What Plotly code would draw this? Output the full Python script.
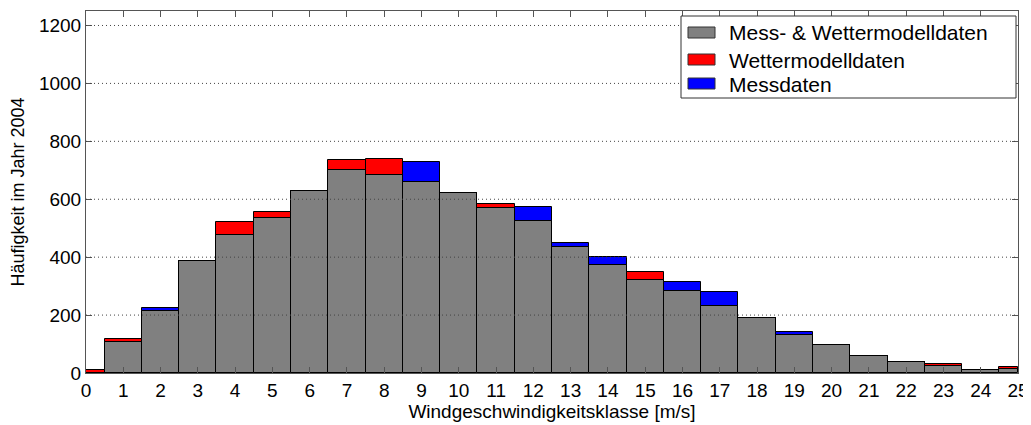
import plotly.graph_objects as go

# bin centres (class 0 and 25 are half-width bins)
klassen = list(range(0, 26))
bin_x = [0.25] + list(range(1, 25)) + [24.75]
bin_w = [0.5] + [1] * 24 + [0.5]

# measured data (Messdaten) and weather-model data (Wettermodelldaten)
messdaten = [0, 107, 225, 388, 476, 536, 630, 702, 682, 728, 620, 571, 572, 449,
             399, 322, 313, 278, 189, 140, 97, 59, 37, 23, 12, 13]
wetterdaten = [12, 117, 214, 388, 520, 556, 630, 735, 739, 659, 620, 584, 526, 434,
               372, 349, 283, 233, 189, 132, 97, 59, 37, 31, 12, 21]

serien_namen = ["Mess- & Wettermodelldaten", "Wettermodelldaten", "Messdaten"]
serien_farben = ["#808080", "#ff0000", "#0000ff"]

y_ticks = [0, 200, 400, 600, 800, 1000, 1200]
x_ticks = list(range(0, 26))

gemeinsam = [min(m, w) for m, w in zip(messdaten, wetterdaten)]
rot = [w - m if w > m else 0 for m, w in zip(messdaten, wetterdaten)]
blau = [m - w if m > w else 0 for m, w in zip(messdaten, wetterdaten)]

FONT = "Liberation Sans, Arial, sans-serif"
edge = dict(color="black", width=1)

fig = go.Figure()
fig.add_trace(go.Bar(x=bin_x, y=gemeinsam, width=bin_w, name=serien_namen[0],
                     marker=dict(color=serien_farben[0], line=edge)))
fig.add_trace(go.Bar(x=bin_x, y=rot, base=gemeinsam, width=bin_w, name=serien_namen[1],
                     marker=dict(color=serien_farben[1], line=edge)))
fig.add_trace(go.Bar(x=bin_x, y=blau, base=gemeinsam, width=bin_w, name=serien_namen[2],
                     marker=dict(color=serien_farben[2], line=edge)))

# dotted grid drawn on top of the bars (as in the original)
for yt in y_ticks[1:]:
    fig.add_shape(type="line", xref="paper", yref="y", x0=0, x1=1, y0=yt, y1=yt,
                  line=dict(color="#444444", width=1, dash="1px,3px"), layer="above")

# MATLAB-style legend box (paper coordinates derived from screen pixels)
PLOT_L, PLOT_R, PLOT_T, PLOT_B = 86, 1018, 11, 373
def px(X):
    return (X - PLOT_L) / (PLOT_R - PLOT_L)
def py(Y):
    return (PLOT_B - Y) / (PLOT_B - PLOT_T)

fig.add_shape(type="rect", xref="paper", yref="paper",
              x0=px(681), x1=px(1016), y0=py(98), y1=py(16),
              line=dict(color="#333333", width=1), fillcolor="white", layer="above")
row_centres = [32.5, 59.5, 83.5]
for name, colour, yc in zip(serien_namen, serien_farben, row_centres):
    fig.add_shape(type="rect", xref="paper", yref="paper",
                  x0=px(688), x1=px(715), y0=py(yc + 5.5), y1=py(yc - 5.5),
                  line=dict(color="#333333", width=1), fillcolor=colour, layer="above")
    fig.add_annotation(xref="paper", yref="paper", x=px(727), y=py(yc + 0.5),
                       xanchor="left", yanchor="middle", showarrow=False,
                       text=name, font=dict(family=FONT, size=21, color="black"))

# note: the page body has an 8px default margin, margins compensate for it
fig.update_layout(
    width=1031, height=425,
    margin=dict(l=78, r=21, t=3, b=60, autoexpand=False),
    paper_bgcolor="white", plot_bgcolor="white",
    barmode="overlay", bargap=0,
    font=dict(family=FONT, size=19, color="black"),
    showlegend=False,
)
fig.update_xaxes(range=[0, 25], tickvals=x_ticks, ticks="inside", ticklen=6,
                 tickcolor="#555555", showgrid=False, showline=True, linecolor="#555555",
                 linewidth=1, mirror="ticks", zeroline=False, layer="above traces",
                 automargin=False,
                 title=dict(text="Windgeschwindigkeitsklasse [m/s]", standoff=0,
                            font=dict(size=19)),
                 tickfont=dict(size=19))
fig.update_yaxes(range=[0, 1250], tickvals=y_ticks, ticks="inside", ticklen=6,
                 tickcolor="#555555", showgrid=False, showline=True, linecolor="#555555",
                 linewidth=1, mirror="ticks", zeroline=False, layer="above traces",
                 automargin=False,
                 title=dict(text="Häufigkeit im Jahr 2004", standoff=10,
                            font=dict(size=18)),
                 tickfont=dict(size=19))

fig.write_html("out.html")
